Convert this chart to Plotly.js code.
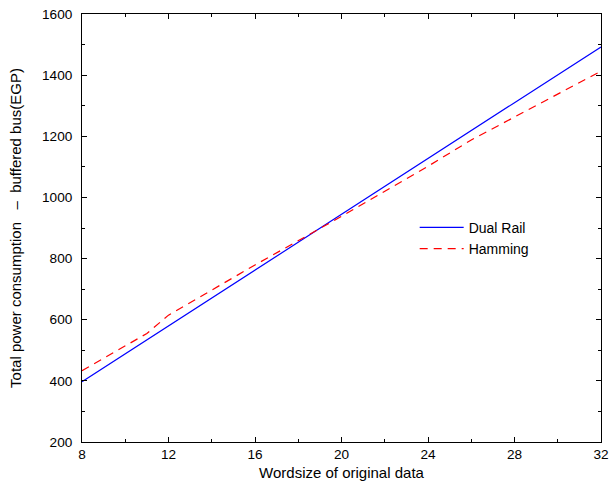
<!DOCTYPE html>
<html>
<head>
<meta charset="utf-8">
<script src="https://cdn.plot.ly/plotly-3.0.1.min.js"></script>
<style>html,body{margin:0;padding:0;background:#fff;}#chart{width:610px;height:486px;}</style>
</head>
<body>
<div id="chart"></div>
<script>
const dualRailX = [8, 12, 16, 20, 24, 28, 32];
const dualRailY = [397, 580, 762, 946, 1127, 1310, 1492];
const hammingX = [8, 11, 12, 16, 20, 24, 26, 28, 32];
const hammingY = [433, 555, 615, 779, 938, 1102, 1188, 1263, 1413];
const xTicks = [8, 12, 16, 20, 24, 28, 32];
const yTicks = [200, 400, 600, 800, 1000, 1200, 1400, 1600];

const fam = 'Liberation Sans, Arial, sans-serif';
const font = {family: fam, size: 14, color: '#000'};

const traces = [
  {x: dualRailX, y: dualRailY, name: 'Dual Rail', mode: 'lines', line: {color: '#0000ff', width: 1.2}},
  {x: hammingX, y: hammingY, name: 'Hamming', mode: 'lines', line: {color: '#ff0000', width: 1.2, dash: '8px,6px'}}
];

const axisCommon = {
  showgrid: false, zeroline: false, showline: true, linecolor: '#000', linewidth: 1,
  mirror: 'ticks', ticks: 'inside', ticklen: 5, tickcolor: '#000', tickwidth: 1,
  tickfont: {family: fam, size: 13.6, color: '#000'}
};

const layout = {
  width: 610, height: 486,
  margin: {l: 82, r: 9, t: 14, b: 44},
  paper_bgcolor: '#fff', plot_bgcolor: '#fff',
  font: font,
  showlegend: true,
  legend: {x: 0.641, y: 0.538, xanchor: 'left', yanchor: 'top', bgcolor: 'rgba(0,0,0,0)',
           font: {family: fam, size: 14, color: '#000'}, tracegroupgap: 0, itemwidth: 44},
  xaxis: Object.assign({}, axisCommon, {
    range: [8, 32], tickvals: xTicks, ticktext: xTicks.map(String),
    minor: {dtick: 2, tick0: 8, ticks: 'inside', ticklen: 3, tickcolor: '#000'},
    title: {text: 'Wordsize of original data', font: {family: fam, size: 15, color: '#000'}, standoff: 6}
  }),
  yaxis: Object.assign({}, axisCommon, {
    range: [200, 1600], tickvals: yTicks, ticktext: yTicks.map(String),
    minor: {dtick: 100, tick0: 200, ticks: 'inside', ticklen: 3, tickcolor: '#000'},
    ticklabelstandoff: 6,
    title: {text: 'Total power consumption\u00a0\u00a0 \u2013 \u00a0buffered bus(EGP)', font: {family: fam, size: 15, color: '#000'}, standoff: 16}
  })
};

Plotly.newPlot('chart', traces, layout, {displayModeBar: false, staticPlot: true});
</script>
</body>
</html>
